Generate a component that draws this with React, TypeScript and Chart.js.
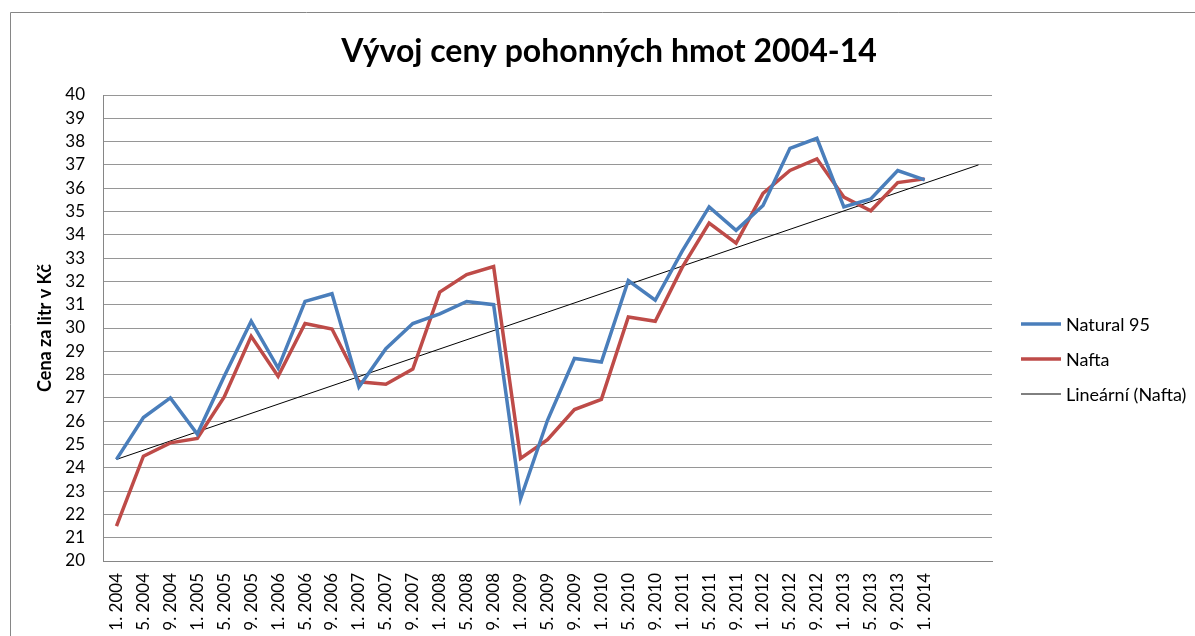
import React, { useEffect, useRef } from 'react';
import { Chart, registerables } from 'chart.js';

Chart.register(...registerables);

const TITLE = 'Vývoj ceny pohonných hmot 2004-14';
const Y_TITLE = 'Cena za litr v Kč';

// 31 monthly points + 2 forecast periods of the linear trendline (unlabelled)
const categories = [
  '1. 2004', '5. 2004', '9. 2004',
  '1. 2005', '5. 2005', '9. 2005',
  '1. 2006', '5. 2006', '9. 2006',
  '1. 2007', '5. 2007', '9. 2007',
  '1. 2008', '5. 2008', '9. 2008',
  '1. 2009', '5. 2009', '9. 2009',
  '1. 2010', '5. 2010', '9. 2010',
  '1. 2011', '5. 2011', '9. 2011',
  '1. 2012', '5. 2012', '9. 2012',
  '1. 2013', '5. 2013', '9. 2013',
  '1. 2014', '', '',
];

const natural95 = [
  24.36, 26.16, 27.0,
  25.45, 27.93, 30.29,
  28.28, 31.14, 31.47,
  27.47, 29.11, 30.19,
  30.61, 31.14, 31.0,
  22.67, 26.04, 28.69,
  28.54, 32.04, 31.19,
  33.3, 35.2, 34.19,
  35.26, 37.71, 38.14,
  35.2, 35.54, 36.76,
  36.36,
];

const nafta = [
  21.5, 24.5, 25.07,
  25.26, 27.04, 29.64,
  27.93, 30.19, 29.96,
  27.69, 27.59, 28.24,
  31.54, 32.29, 32.64,
  24.4, 25.21, 26.5,
  26.94, 30.47, 30.29,
  32.6, 34.5, 33.64,
  35.78, 36.76, 37.26,
  35.62, 35.03, 36.24,
  36.4,
];

// Linear trendline (Nafta) – value at first category and at the last forecast category
const trendStart = 24.36;
const trendEnd = 37.0;

const yMin = 20;
const yMax = 40;

const FONT = 'Lato, "Open Sans", sans-serif';

const W = 1195;
const H = 636;
const PLOT = { left: 103, top: 95, right: 992, bottom: 561 };

const decorPlugin = {
  id: 'decor',
  afterDraw(chart: any) {
    const ctx = chart.ctx as CanvasRenderingContext2D;
    ctx.save();
    // outer chart border (left and top visible)
    ctx.strokeStyle = '#868686';
    ctx.lineWidth = 1;
    ctx.beginPath();
    ctx.moveTo(10.5, H);
    ctx.lineTo(10.5, 12.5);
    ctx.lineTo(W, 12.5);
    ctx.stroke();

    // title
    ctx.fillStyle = '#000000';
    ctx.font = `bold 32px ${FONT}`;
    ctx.textAlign = 'center';
    ctx.textBaseline = 'alphabetic';
    ctx.fillText(TITLE, 609, 62);

    // legend
    const legendY = [324, 359, 394];
    ctx.font = `18px ${FONT}`;
    ctx.textAlign = 'left';
    ctx.textBaseline = 'middle';
    chart.data.datasets.forEach((ds: any, i: number) => {
      const y = legendY[i];
      ctx.strokeStyle = ds.borderColor;
      ctx.lineWidth = ds.borderWidth;
      ctx.lineCap = 'butt';
      ctx.beginPath();
      ctx.moveTo(1021, y);
      ctx.lineTo(1061, y);
      ctx.stroke();
      ctx.fillStyle = '#000000';
      ctx.fillText(ds.label, 1066, y + 1);
    });
    ctx.restore();
  },
};

export default function App() {
  const canvasRef = useRef<HTMLCanvasElement | null>(null);

  useEffect(() => {
    document.body.style.margin = '0';
    const canvas = canvasRef.current;
    if (!canvas) return;

    const trendData = categories.map((_, i) =>
      i === 0 ? trendStart : i === categories.length - 1 ? trendEnd : null
    );

    const padLeft = 20;
    const chart = new Chart(canvas, {
      type: 'line',
      data: {
        labels: categories,
        datasets: [
          {
            label: 'Natural 95',
            data: natural95,
            borderColor: '#4a7ebb',
            backgroundColor: '#4a7ebb',
            borderWidth: 3.5,
            pointRadius: 0,
            tension: 0,
          },
          {
            label: 'Nafta',
            data: nafta,
            borderColor: '#be4b48',
            backgroundColor: '#be4b48',
            borderWidth: 3.5,
            pointRadius: 0,
            tension: 0,
          },
          {
            label: 'Lineární (Nafta)',
            data: trendData,
            borderColor: '#000000',
            backgroundColor: '#000000',
            borderWidth: 1,
            pointRadius: 0,
            spanGaps: true,
            tension: 0,
          },
        ],
      },
      options: {
        responsive: false,
        animation: false,
        layout: {
          padding: { left: padLeft, top: PLOT.top, right: W - PLOT.right, bottom: 0 },
        },
        plugins: {
          legend: { display: false },
          title: { display: false },
          tooltip: { enabled: false },
        },
        scales: {
          x: {
            type: 'category',
            offset: true,
            grid: { display: false, drawTicks: false },
            border: { display: true, color: '#868686', width: 1 },
            ticks: {
              autoSkip: false,
              maxRotation: 90,
              minRotation: 90,
              padding: 12,
              color: '#000000',
              font: { family: FONT, size: 17 },
            },
            afterFit: (scale: any) => {
              scale.height = H - PLOT.bottom;
            },
          },
          y: {
            min: yMin,
            max: yMax,
            ticks: {
              stepSize: 1,
              autoSkip: false,
              padding: 18,
              color: '#000000',
              font: { family: FONT, size: 17 },
            },
            grid: { color: '#969696', lineWidth: 1, drawTicks: false },
            border: { display: true, color: '#868686', width: 1 },
            title: {
              display: true,
              text: Y_TITLE,
              color: '#000000',
              font: { family: FONT, size: 18, weight: 'bold' },
              padding: { top: 14, bottom: 0 },
            },
            afterFit: (scale: any) => {
              scale.width = PLOT.left - padLeft;
            },
          },
        },
      },
      plugins: [decorPlugin],
    });

    return () => {
      chart.destroy();
    };
  }, []);

  return (
    <div style={{ width: W, height: H, background: '#ffffff' }}>
      <canvas ref={canvasRef} width={W} height={H} style={{ display: 'block' }} />
    </div>
  );
}
